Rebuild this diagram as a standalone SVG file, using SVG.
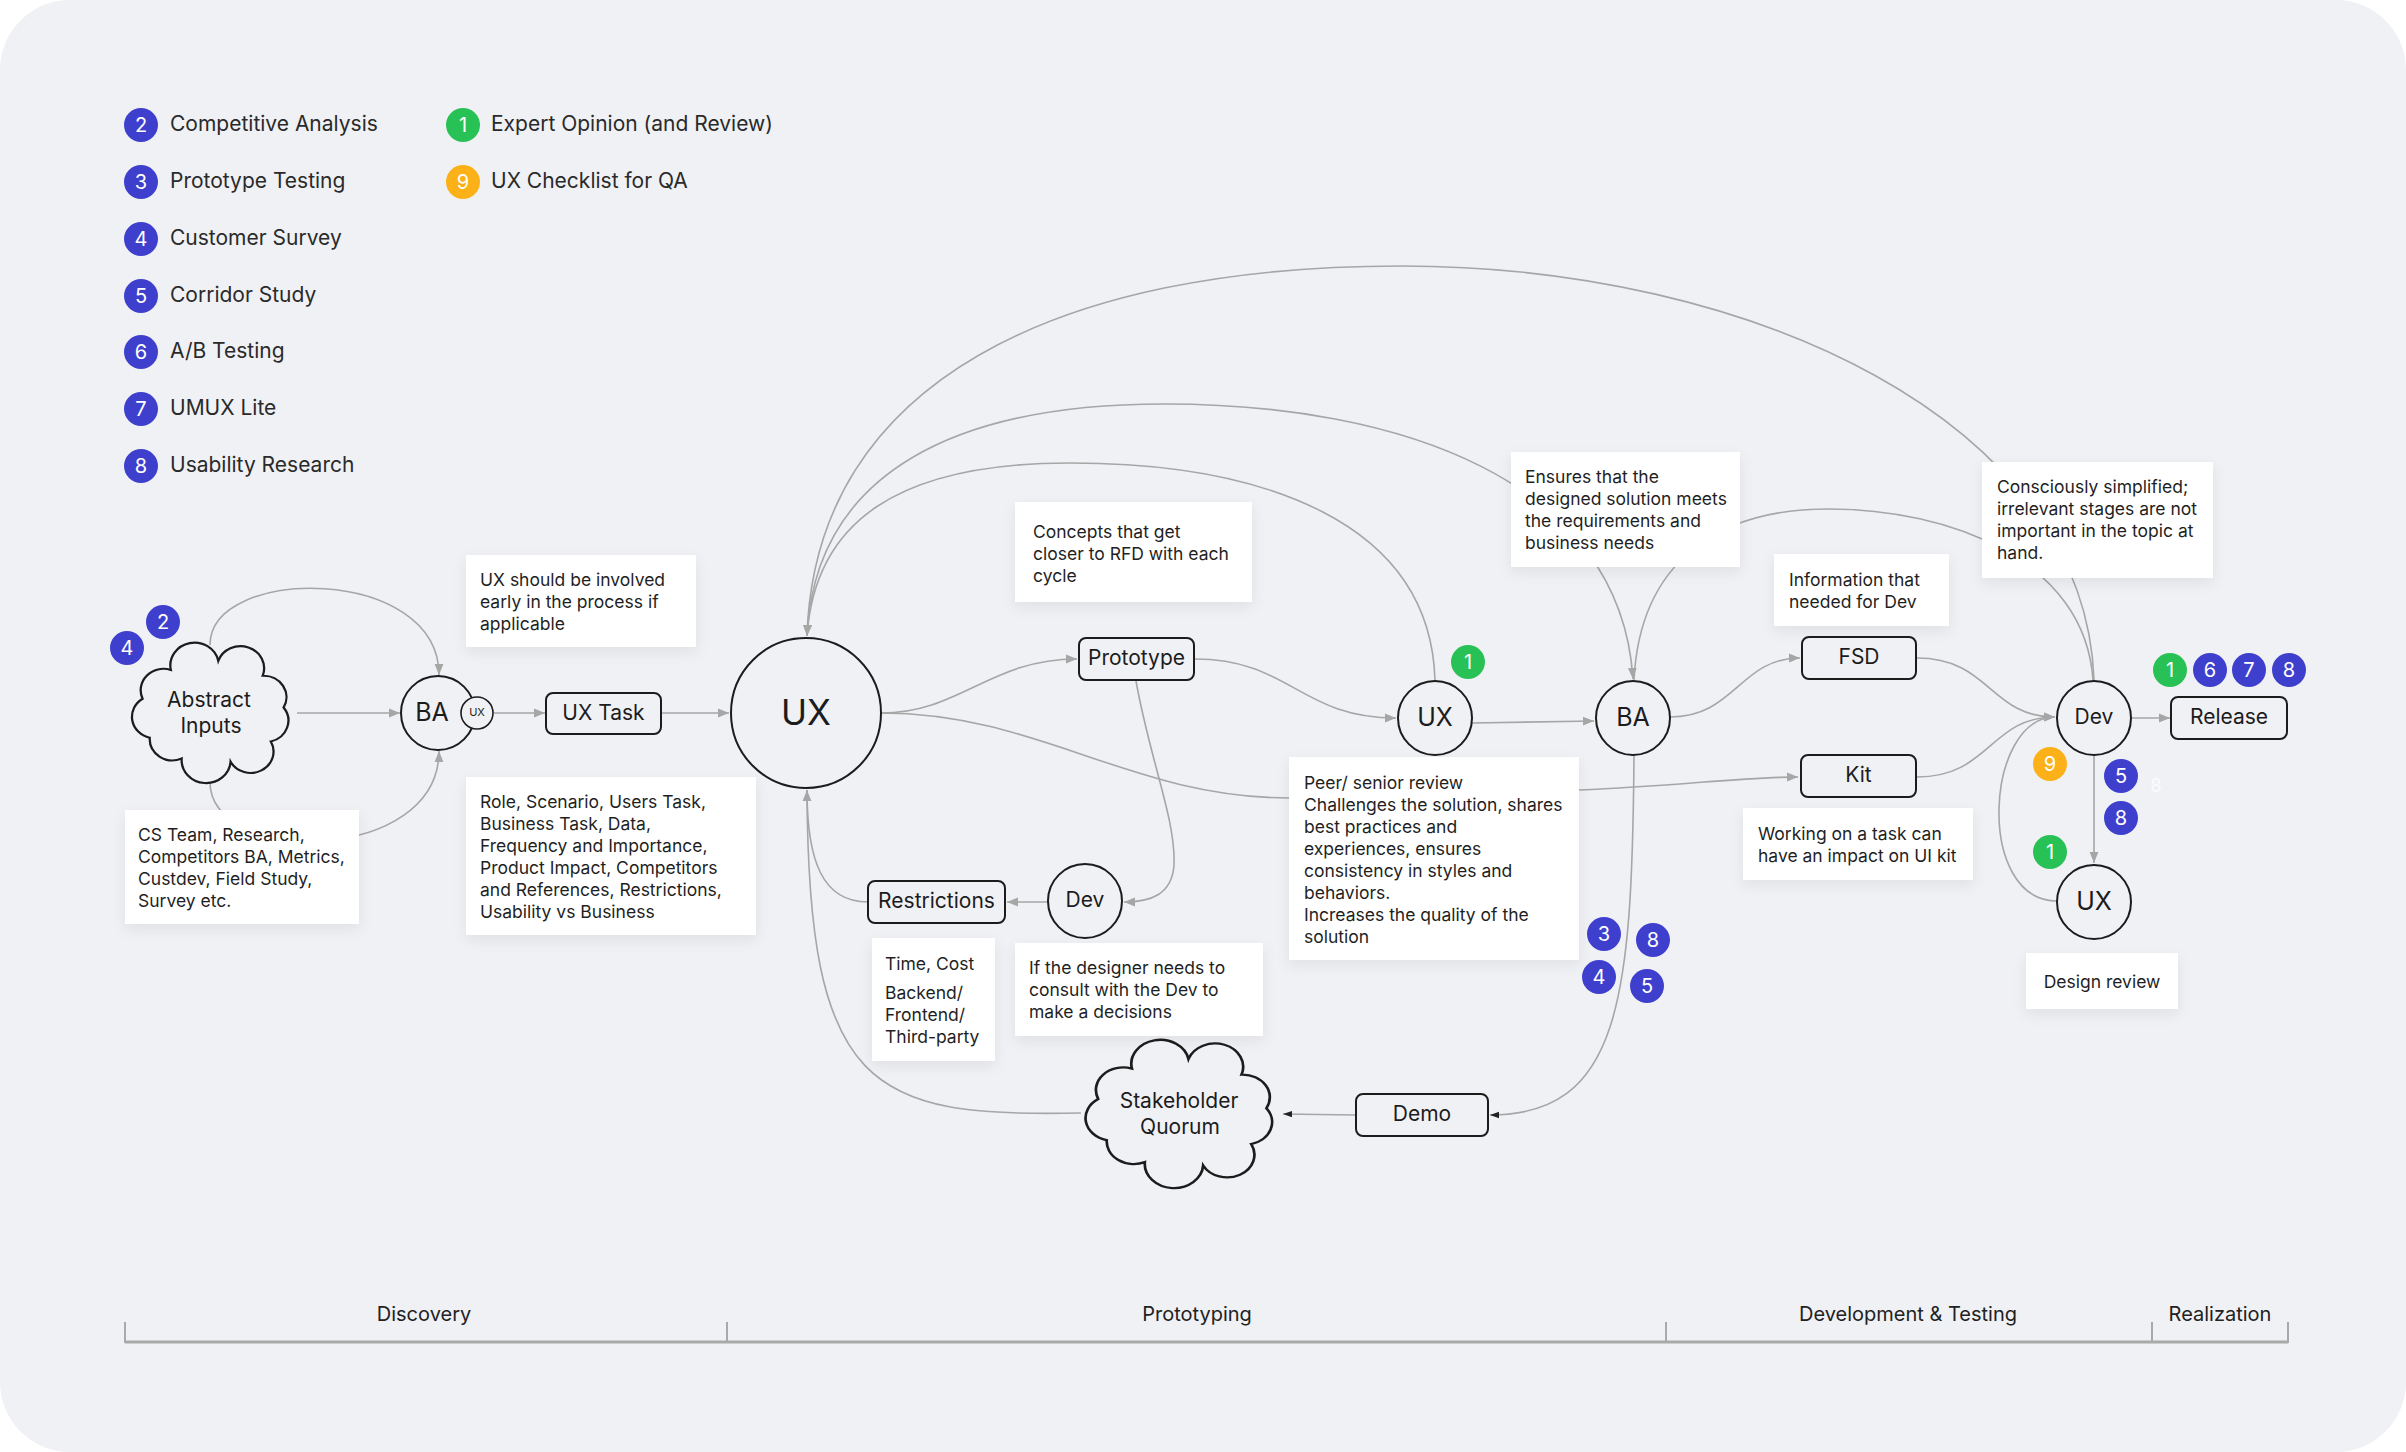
<svg xmlns="http://www.w3.org/2000/svg" width="2406" height="1452" viewBox="0 0 2406 1452">
<style>
text{font-family:Inter,"Liberation Sans",sans-serif;}
.node{fill:#f0f1f5;stroke:#1c1c1c;stroke-width:2;}
.lbl{font-size:21px;fill:#1c1c1c;text-anchor:middle;dominant-baseline:central;transform:translateY(-1.5px);}
.note{fill:#ffffff;filter:url(#sh);}
.nt{font-size:17.5px;fill:#1f1f1f;}
.conn{fill:none;stroke:#a6a6a6;stroke-width:1.6;}
.blue{fill:#3f3fce;}
.green{fill:#28c156;}
.yellow{fill:#fbb117;}
.bt{font-size:20px;fill:#ffffff;text-anchor:middle;dominant-baseline:central;}
.leg{font-size:21px;fill:#2a2a2a;transform:translateY(-1.5px);}
.ph{font-size:20px;fill:#222222;text-anchor:middle;transform:translateY(-1.5px);}
</style>
<defs>
<filter id="sh" x="-20%" y="-20%" width="140%" height="150%">
<feDropShadow dx="0" dy="5" stdDeviation="7" flood-color="#000" flood-opacity="0.07"/>
</filter>
<marker id="ag" viewBox="0 0 10 10" refX="10" refY="5" markerWidth="11" markerHeight="11" markerUnits="userSpaceOnUse" orient="auto">
<path d="M0,1 L10,5 L0,9 z" fill="#a6a6a6"/>
</marker>
<marker id="ak" viewBox="0 0 10 10" refX="10" refY="5" markerWidth="9" markerHeight="9" markerUnits="userSpaceOnUse" orient="auto">
<path d="M0,1.5 L10,5 L0,8.5 z" fill="#222"/>
</marker>
<path id="cloud" d="M -60.9 -12.4 A 20 20 0 0 1 -36.1 -39.3 A 20 20 0 0 1 5.5 -47.8 A 20 20 0 0 1 44.5 -33.9 A 20 20 0 0 1 62.8 -4.2 A 20 20 0 0 1 51.6 27.5 A 20 20 0 0 1 16.3 46.4 A 20 20 0 0 1 -26.6 43.5 A 20 20 0 0 1 -54.6 24 A 20 20 0 0 1 -60.9 -12.4 Z"/>
</defs>

<rect x="0" y="0" width="2406" height="1452" fill="#ffffff"/>
<rect x="0" y="0" width="2406" height="1452" rx="70" ry="70" fill="#f0f1f5"/>

<!-- Legend -->
<g id="legend">
<circle cx="141" cy="125" r="17" class="blue"/><text x="141" y="125" class="bt">2</text><text x="170" y="132.5" class="leg">Competitive Analysis</text>
<circle cx="141" cy="182" r="17" class="blue"/><text x="141" y="182" class="bt">3</text><text x="170" y="189.5" class="leg">Prototype Testing</text>
<circle cx="141" cy="239" r="17" class="blue"/><text x="141" y="239" class="bt">4</text><text x="170" y="246.5" class="leg">Customer Survey</text>
<circle cx="141" cy="296" r="17" class="blue"/><text x="141" y="296" class="bt">5</text><text x="170" y="303.5" class="leg">Corridor Study</text>
<circle cx="141" cy="352" r="17" class="blue"/><text x="141" y="352" class="bt">6</text><text x="170" y="359.5" class="leg">A/B Testing</text>
<circle cx="141" cy="409" r="17" class="blue"/><text x="141" y="409" class="bt">7</text><text x="170" y="416.5" class="leg">UMUX Lite</text>
<circle cx="141" cy="466" r="17" class="blue"/><text x="141" y="466" class="bt">8</text><text x="170" y="473.5" class="leg">Usability Research</text>
<circle cx="463" cy="125" r="17" class="green"/><text x="463" y="125" class="bt">1</text><text x="491" y="132.5" class="leg">Expert Opinion (and Review)</text>
<circle cx="463" cy="182" r="17" class="yellow"/><text x="463" y="182" class="bt">9</text><text x="491" y="189.5" class="leg">UX Checklist for QA</text>
</g>

<!-- Connectors -->
<g id="connectors">
<path class="conn" d="M 297 713 L 400 713" marker-end="url(#ag)"/>
<path class="conn" d="M 210 645 C 210 565, 439 565, 439 675" marker-end="url(#ag)"/>
<path class="conn" d="M 210 782 C 210 865, 439 865, 439 751" marker-end="url(#ag)"/>
<path class="conn" d="M 494 713 L 545 713" marker-end="url(#ag)"/>
<path class="conn" d="M 662 713 L 729 713" marker-end="url(#ag)"/>
<path class="conn" d="M 881 713 C 960 713, 990 659, 1077 659" marker-end="url(#ag)"/>
<path class="conn" d="M 1195 659 C 1290 659, 1300 718, 1396 718" marker-end="url(#ag)"/>
<path class="conn" d="M 881 713 C 1040 713, 1130 798, 1290 798 L 1579 790 C 1680 786, 1740 777, 1798 777" marker-end="url(#ag)"/>
<path class="conn" d="M 1472 723 L 1594 721" marker-end="url(#ag)"/>
<path class="conn" d="M 1670 717 C 1735 717, 1740 658, 1800 658" marker-end="url(#ag)"/>
<path class="conn" d="M 1917 658 C 1990 658, 1990 717, 2055 717" marker-end="url(#ag)"/>
<path class="conn" d="M 1917 777 C 1990 777, 1990 717, 2055 717" marker-end="url(#ag)"/>
<path class="conn" d="M 2057 901 C 1975 901, 1985 717, 2055 717"/>
<path class="conn" d="M 2132 718 L 2170 718" marker-end="url(#ag)"/>
<path class="conn" d="M 2094 756 L 2094 863" marker-end="url(#ag)"/>
<path class="conn" d="M 1136 681 C 1150 760, 1176 820, 1174 865 C 1172 895, 1150 902, 1124 902" marker-end="url(#ag)"/>
<path class="conn" d="M 1048 902 L 1007 902" marker-end="url(#ag)"/>
<path class="conn" d="M 868 902 C 822 902, 807 860, 807 790" marker-end="url(#ag)"/>
<path class="conn" d="M 1081 1113 C 870 1118, 808 1090, 807 790"/>
<path class="conn" d="M 1634 756 C 1632 1000, 1620 1115, 1490 1115" marker-end="url(#ak)"/>
<path class="conn" d="M 1355 1115 L 1283 1114" marker-end="url(#ak)"/>
<path class="conn" d="M 2094 680 C 2085 420, 1750 266, 1401 266 C 1060 266, 815 380, 807 636" marker-end="url(#ag)"/>
<path class="conn" d="M 807 636 C 815 470, 960 404, 1164 404 C 1400 404, 1620 480, 1633 679" marker-end="url(#ag)"/>
<path class="conn" d="M 1435 680 C 1430 520, 1260 463, 1070 463 C 900 463, 815 520, 807 636" marker-end="url(#ag)"/>
<path class="conn" d="M 1634 680 C 1640 560, 1720 509, 1828 509 C 1950 509, 2085 560, 2093 680"/>
</g>

<!-- Notes -->
<g id="note-cs"><rect class="note" x="125" y="810" width="234" height="114"/>
<text class="nt"><tspan x="138" y="841">CS Team, Research,</tspan><tspan x="138" y="863">Competitors BA, Metrics,</tspan><tspan x="138" y="885">Custdev, Field Study,</tspan><tspan x="138" y="907">Survey etc.</tspan></text></g>
<g id="note-early"><rect class="note" x="466" y="555" width="230" height="92"/>
<text class="nt"><tspan x="480" y="586">UX should be involved</tspan><tspan x="480" y="608">early in the process if</tspan><tspan x="480" y="630">applicable</tspan></text></g>
<g id="note-role"><rect class="note" x="466" y="777" width="290" height="158"/>
<text class="nt"><tspan x="480" y="808">Role, Scenario, Users Task,</tspan><tspan x="480" y="830">Business Task, Data,</tspan><tspan x="480" y="852">Frequency and Importance,</tspan><tspan x="480" y="874">Product Impact, Competitors</tspan><tspan x="480" y="896">and References, Restrictions,</tspan><tspan x="480" y="918">Usability vs Business</tspan></text></g>
<g id="note-concepts"><rect class="note" x="1015" y="502" width="237" height="100"/>
<text class="nt"><tspan x="1033" y="538">Concepts that get</tspan><tspan x="1033" y="560">closer to RFD with each</tspan><tspan x="1033" y="582">cycle</tspan></text></g>
<g id="note-ensures"><rect class="note" x="1511" y="452" width="229" height="115"/>
<text class="nt"><tspan x="1525" y="483">Ensures that the</tspan><tspan x="1525" y="505">designed solution meets</tspan><tspan x="1525" y="527">the requirements and</tspan><tspan x="1525" y="549">business needs</tspan></text></g>
<g id="note-info"><rect class="note" x="1774" y="554" width="175" height="72"/>
<text class="nt"><tspan x="1789" y="586">Information that</tspan><tspan x="1789" y="608">needed for Dev</tspan></text></g>
<g id="note-simplified"><rect class="note" x="1982" y="462" width="231" height="116"/>
<text class="nt"><tspan x="1997" y="493">Consciously simplified;</tspan><tspan x="1997" y="515">irrelevant stages are not</tspan><tspan x="1997" y="537">important in the topic at</tspan><tspan x="1997" y="559">hand.</tspan></text></g>
<g id="note-peer"><rect class="note" x="1289" y="757" width="290" height="203"/>
<text class="nt"><tspan x="1304" y="789">Peer/ senior review</tspan><tspan x="1304" y="811">Challenges the solution, shares</tspan><tspan x="1304" y="833">best practices and</tspan><tspan x="1304" y="855">experiences, ensures</tspan><tspan x="1304" y="877">consistency in styles and</tspan><tspan x="1304" y="899">behaviors.</tspan><tspan x="1304" y="921">Increases the quality of the</tspan><tspan x="1304" y="943">solution</tspan></text></g>
<g id="note-kit"><rect class="note" x="1743" y="808" width="230" height="72"/>
<text class="nt"><tspan x="1758" y="840">Working on a task can</tspan><tspan x="1758" y="862">have an impact on UI kit</tspan></text></g>
<g id="note-review"><rect class="note" x="2026" y="953" width="152" height="56"/>
<text class="nt" x="2102" y="988" text-anchor="middle">Design review</text></g>
<g id="note-time"><rect class="note" x="872" y="938" width="123" height="123"/>
<text class="nt"><tspan x="885" y="970">Time, Cost</tspan><tspan x="885" y="999">Backend/</tspan><tspan x="885" y="1021">Frontend/</tspan><tspan x="885" y="1043">Third-party</tspan></text></g>
<g id="note-consult"><rect class="note" x="1015" y="943" width="248" height="93"/>
<text class="nt"><tspan x="1029" y="974">If the designer needs to</tspan><tspan x="1029" y="996">consult with the Dev to</tspan><tspan x="1029" y="1018">make a decisions</tspan></text></g>

<!-- Nodes -->
<g id="abstract-inputs">
<use href="#cloud" transform="translate(212,712) scale(1.14,1.07)" fill="#f0f1f5" stroke="#1c1c1c" stroke-width="2" style="vector-effect:non-scaling-stroke"/>
<text class="lbl" x="209" y="701">Abstract</text><text class="lbl" x="211" y="727">Inputs</text>
</g>
<g id="ba1"><circle class="node" cx="438" cy="713" r="37"/><text class="lbl" x="432" y="713" style="font-size:25px">BA</text>
<circle class="node" cx="477" cy="713" r="16" style="stroke-width:1.6"/><text class="lbl" x="477" y="713" style="font-size:11px">UX</text></g>
<g id="ux-task"><rect class="node" x="546" y="693" width="115" height="41" rx="7"/><text class="lbl" x="603.5" y="713.5">UX Task</text></g>
<g id="ux-main"><circle class="node" cx="806" cy="713" r="75"/><text class="lbl" x="806" y="713" style="font-size:35px">UX</text></g>
<g id="prototype"><rect class="node" x="1079" y="638" width="115" height="42" rx="7"/><text class="lbl" x="1136.5" y="659">Prototype</text></g>
<g id="ux-review"><circle class="node" cx="1435" cy="718" r="37"/><text class="lbl" x="1435" y="718" style="font-size:25px">UX</text></g>
<g id="ba2"><circle class="node" cx="1633" cy="718" r="37"/><text class="lbl" x="1633" y="718" style="font-size:25px">BA</text></g>
<g id="fsd"><rect class="node" x="1802" y="637" width="114" height="42" rx="7"/><text class="lbl" x="1859" y="658">FSD</text></g>
<g id="kit"><rect class="node" x="1801" y="755" width="115" height="42" rx="7"/><text class="lbl" x="1858.5" y="776">Kit</text></g>
<g id="dev-main"><circle class="node" cx="2094" cy="718" r="37"/><text class="lbl" x="2094" y="718">Dev</text></g>
<g id="release"><rect class="node" x="2171" y="697" width="116" height="42" rx="7"/><text class="lbl" x="2229" y="718">Release</text></g>
<g id="ux-design-review"><circle class="node" cx="2094" cy="902" r="37"/><text class="lbl" x="2094" y="902" style="font-size:25px">UX</text></g>
<g id="dev-consult"><circle class="node" cx="1085" cy="901" r="37"/><text class="lbl" x="1085" y="901">Dev</text></g>
<g id="restrictions"><rect class="node" x="868" y="881" width="137" height="42" rx="7"/><text class="lbl" x="936.5" y="902">Restrictions</text></g>
<g id="demo"><rect class="node" x="1356" y="1094" width="132" height="42" rx="7"/><text class="lbl" x="1422" y="1115">Demo</text></g>
<g id="stakeholder-quorum">
<use href="#cloud" transform="translate(1181,1113) scale(1.36,1.13)" fill="#f0f1f5" stroke="#1c1c1c" stroke-width="2" style="vector-effect:non-scaling-stroke"/>
<text class="lbl" x="1179" y="1102">Stakeholder</text><text class="lbl" x="1180" y="1128">Quorum</text>
</g>

<!-- Badges -->
<g id="badges">
<circle cx="163" cy="622" r="17" class="blue"/><text x="163" y="622" class="bt">2</text>
<circle cx="127" cy="648" r="17" class="blue"/><text x="127" y="648" class="bt">4</text>
<circle cx="1468" cy="662" r="17" class="green"/><text x="1468" y="662" class="bt">1</text>
<circle cx="1604" cy="934" r="17" class="blue"/><text x="1604" y="934" class="bt">3</text>
<circle cx="1653" cy="940" r="17" class="blue"/><text x="1653" y="940" class="bt">8</text>
<circle cx="1599" cy="977" r="17" class="blue"/><text x="1599" y="977" class="bt">4</text>
<circle cx="1647" cy="986" r="17" class="blue"/><text x="1647" y="986" class="bt">5</text>
<circle cx="2170" cy="670" r="17" class="green"/><text x="2170" y="670" class="bt">1</text>
<circle cx="2210" cy="670" r="17" class="blue"/><text x="2210" y="670" class="bt">6</text>
<circle cx="2249" cy="670" r="17" class="blue"/><text x="2249" y="670" class="bt">7</text>
<circle cx="2289" cy="670" r="17" class="blue"/><text x="2289" y="670" class="bt">8</text>
<circle cx="2050" cy="764" r="17" class="yellow"/><text x="2050" y="764" class="bt">9</text>
<circle cx="2121" cy="776" r="17" class="blue"/><text x="2121" y="776" class="bt">5</text>
<circle cx="2121" cy="818" r="17" class="blue"/><text x="2121" y="818" class="bt">8</text>
<circle cx="2050" cy="852" r="17" class="green"/><text x="2050" y="852" class="bt">1</text>
<text x="2156" y="785" class="bt" style="font-size:18px;opacity:0.75">8</text>
</g>

<!-- Phases -->
<g id="phases">
<path d="M 125 1342 L 2288 1342" stroke="#a9a9a9" stroke-width="3" fill="none"/>
<path d="M 125 1322 V 1343 M 727 1322 V 1343 M 1666 1322 V 1343 M 2152 1322 V 1343 M 2288 1322 V 1343" stroke="#a9a9a9" stroke-width="2" fill="none"/>
<text class="ph" x="424" y="1322">Discovery</text>
<text class="ph" x="1197" y="1322">Prototyping</text>
<text class="ph" x="1908" y="1322">Development &amp; Testing</text>
<text class="ph" x="2220" y="1322">Realization</text>
</g>
</svg>
